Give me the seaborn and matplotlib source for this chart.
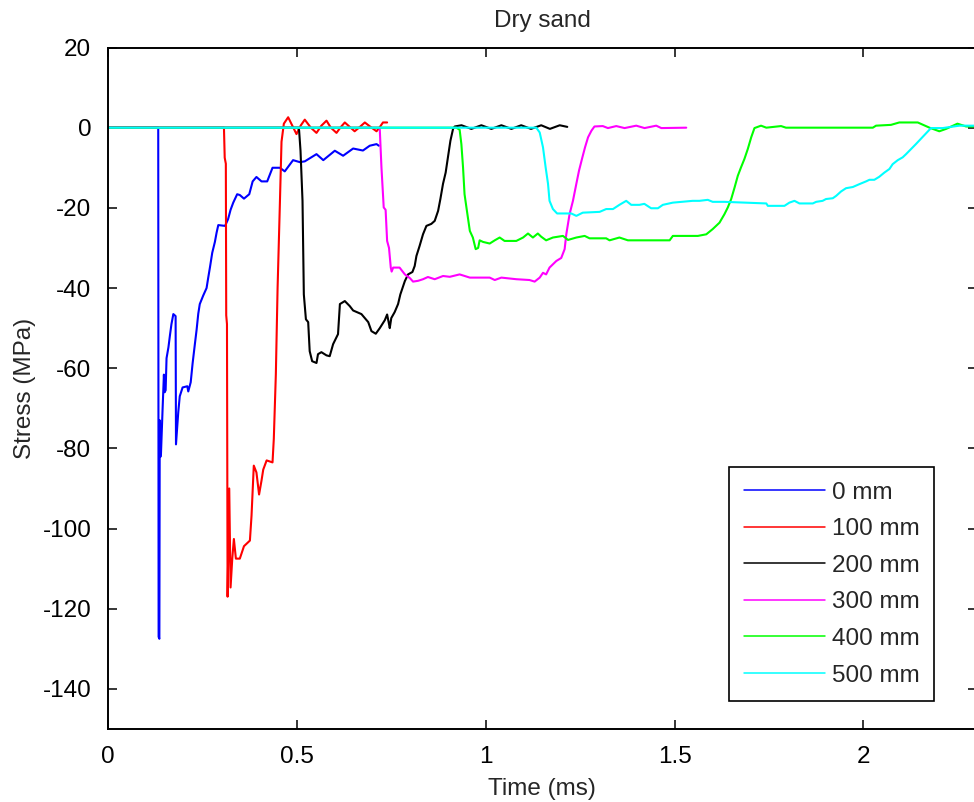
import numpy as np
import pandas as pd
import matplotlib
matplotlib.use("Agg")
import matplotlib.pyplot as plt
import seaborn as sns

labels = ["0 mm", "100 mm", "200 mm", "300 mm", "400 mm", "500 mm"]
colors = ["#0000ff", "#ff0000", "#000000", "#ff00ff", "#00ff00", "#00ffff"]

x_ticks = [0, 0.5, 1, 1.5, 2]
x_ticklabels = ["0", "0.5", "1", "1.5", "2"]
y_ticks = [-140, -120, -100, -80, -60, -40, -20, 0, 20]
y_ticklabels = ["-140", "-120", "-100", "-80", "-60", "-40", "-20", "0", "20"]

# time (ms) / stress (MPa)
t_0 = [0, 0.133, 0.134, 0.136, 0.137, 0.140, 0.1446, 0.148, 0.150, 0.1526,
       0.155, 0.160, 0.164, 0.168, 0.173, 0.179, 0.180, 0.186, 0.190, 0.1975,
       0.210, 0.2125, 0.219, 0.224, 0.230, 0.2346, 0.239, 0.243, 0.252, 0.261,
       0.2654, 0.270, 0.276, 0.283, 0.2875, 0.292, 0.310, 0.318, 0.3245, 0.3316,
       0.342, 0.349, 0.360, 0.374, 0.383, 0.393, 0.4065, 0.4215, 0.4356, 0.455,
       0.468, 0.490, 0.508, 0.521, 0.552, 0.570, 0.6005, 0.6225, 0.649, 0.675,
       0.693, 0.711, 0.717]
s_0 = [0, 0, -127, -127.5, -73, -82, -70, -61.6, -66, -65.5,
       -57.5, -54.8, -51.8, -49, -46.5, -47, -79, -71, -67, -64.8,
       -64.5, -65.8, -63.5, -58.8, -54, -50.4, -46.4, -44, -41.9, -40,
       -37.4, -34.8, -31.2, -28.5, -26.2, -24.3, -24.5, -22.8, -20.5, -18.7,
       -16.6, -16.8, -17.7, -16.6, -13.4, -12.3, -13.4, -13.4, -10, -10,
       -10.9, -8.1, -8.6, -8.4, -6.6, -8.1, -5.75, -7, -5.2, -5.7,
       -4.5, -4.1, -4.5]

t_100 = [0, 0.307, 0.309, 0.312, 0.313, 0.315, 0.3166, 0.321, 0.3245, 0.329,
         0.3333, 0.3386, 0.349, 0.360, 0.3757, 0.380, 0.386, 0.393, 0.400, 0.4065,
         0.411, 0.420, 0.4356, 0.439, 0.4444, 0.449, 0.455, 0.4594, 0.4656, 0.477,
         0.488, 0.499, 0.510, 0.521, 0.537, 0.552, 0.565, 0.5785, 0.590, 0.605,
         0.615, 0.627, 0.640, 0.653, 0.667, 0.680, 0.695, 0.711, 0.720, 0.728,
         0.739]
s_100 = [0, 0, -7.5, -9, -46.8, -49, -117, -90, -114.7, -107.5,
         -102.6, -107.5, -107.5, -104.4, -103, -96.8, -84.3, -86, -91.5, -88,
         -85.3, -83, -83.5, -77.6, -61.5, -40, -19.2, -3.5, 1, 2.6,
         0.5, -1.6, 0.5, 2, 0, -1.3, 0.5, 1.75, 0, -1.3,
         0, 1.3, 0.2, -0.9, 0.2, 1.3, 0.2, -0.9, 0.2, 1.3,
         1.3]

t_200 = [0, 0.504, 0.506, 0.5097, 0.515, 0.5185, 0.524, 0.530, 0.534, 0.5405,
         0.552, 0.556, 0.565, 0.5785, 0.587, 0.596, 0.609, 0.614, 0.627, 0.640,
         0.649, 0.671, 0.689, 0.6975, 0.709, 0.7196, 0.733, 0.739, 0.743, 0.746,
         0.750, 0.759, 0.768, 0.774, 0.786, 0.7945, 0.806, 0.812, 0.8166, 0.825,
         0.834, 0.843, 0.856, 0.865, 0.874, 0.880, 0.887, 0.894, 0.900, 0.9066,
         0.9136, 0.918, 0.936, 0.962, 0.9885, 1.015, 1.0415, 1.068, 1.094, 1.12,
         1.147, 1.17, 1.196, 1.216]
s_200 = [0, 0, -0.7, -5.75, -18.25, -41.6, -47.8, -48.5, -55.75, -58.25,
         -58.7, -56.5, -56, -56.8, -57, -54, -51.5, -44, -43.25, -44.5,
         -45.6, -46.5, -48.5, -50.75, -51.4, -50, -48, -46.6, -48.5, -50,
         -47.5, -46, -44, -41.6, -38.25, -36.6, -36, -34.5, -32, -29.5,
         -26.6, -24.5, -24, -23.25, -20.75, -17.8, -14, -11.2, -7.4, -3.25,
         -0.3, 0.3, 0.6, -0.3, 0.6, -0.3, 0.6, -0.3, 0.6, -0.3,
         0.6, -0.3, 0.6, 0.2]

t_300 = [0, 0.717, 0.7196, 0.724, 0.730, 0.735, 0.739, 0.744, 0.7487, 0.751,
         0.755, 0.772, 0.786, 0.799, 0.8077, 0.821, 0.834, 0.847, 0.865, 0.887,
         0.905, 0.931, 0.958, 0.984, 1.0106, 1.024, 1.0415, 1.081, 1.116, 1.1296,
         1.143, 1.1517, 1.16, 1.169, 1.187, 1.20, 1.209, 1.2134, 1.222, 1.231,
         1.24, 1.247, 1.256, 1.263, 1.271, 1.28, 1.288, 1.31, 1.3236, 1.3457,
         1.3677, 1.3986, 1.4206, 1.4515, 1.465, 1.531]
s_300 = [0, 0, -0.5, -9.9, -19.9, -20.5, -28.25, -30, -34.9, -35.9,
         -34.9, -34.9, -36.6, -37.5, -38.4, -38.2, -37.8, -37.25, -37.8, -37,
         -37.2, -36.6, -37.4, -37.4, -37.4, -38, -37.4, -37.8, -38, -38.4,
         -37.4, -36.2, -36.6, -34.9, -33.25, -32.5, -30.3, -26.6, -21.6, -18.25,
         -14, -10.75, -7.4, -4.9, -2.4, -0.75, 0.3, 0.4, -0.1, 0.4,
         -0.1, 0.5, -0.1, 0.5, -0.1, 0]

t_400 = [0, 0.922, 0.931, 0.9356, 0.940, 0.944, 0.949, 0.953, 0.958, 0.966,
         0.9735, 0.980, 0.984, 0.993, 1.0106, 1.024, 1.037, 1.050, 1.081, 1.099,
         1.112, 1.125, 1.138, 1.147, 1.16, 1.178, 1.2046, 1.218, 1.24, 1.262,
         1.275, 1.319, 1.328, 1.354, 1.3765, 1.487, 1.4955, 1.5617, 1.584, 1.601,
         1.619, 1.632, 1.641, 1.650, 1.659, 1.6675, 1.676, 1.685, 1.694, 1.703,
         1.7116, 1.729, 1.743, 1.782, 1.795, 2.025, 2.0335, 2.073, 2.095, 2.144,
         2.175, 2.201, 2.219, 2.249, 2.272, 2.30]
s_400 = [0, 0, -0.5, -4.1, -9.9, -16.6, -19.9, -22.5, -25.75, -27.4,
         -30.3, -30, -28.1, -28.5, -28.9, -28.1, -27.4, -28.25, -28.25, -27.4,
         -26.4, -27.4, -26.4, -27.2, -28.1, -27.4, -27, -28, -27.4, -27,
         -27.6, -27.6, -28.1, -27.4, -28.1, -28.1, -27, -27, -26.6, -25.3,
         -23.7, -21.6, -19.9, -17.8, -14.9, -12, -9.9, -7.8, -5.3, -2.4,
         -0.1, 0.5, 0, 0.4, 0, 0, 0.5, 0.7, 1.3, 1.3,
         0, -0.9, -0.3, 1, 0.3, 0.3]

t_500 = [0, 1.134, 1.143, 1.1517, 1.1587, 1.165, 1.169, 1.178, 1.189, 1.2266,
         1.24, 1.257, 1.3016, 1.319, 1.337, 1.354, 1.372, 1.3854, 1.407, 1.42,
         1.438, 1.456, 1.469, 1.4955, 1.548, 1.566, 1.588, 1.601, 1.632, 1.743,
         1.747, 1.791, 1.804, 1.8175, 1.8307, 1.866, 1.875, 1.892, 1.901, 1.919,
         1.928, 1.941, 1.954, 1.972, 1.989, 2.007, 2.016, 2.029, 2.042, 2.0556,
         2.069, 2.0775, 2.091, 2.104, 2.113, 2.139, 2.179, 2.21, 2.254, 2.30]
s_500 = [0, 0, -1.2, -4.9, -9.9, -14, -18.25, -20.3, -21.4, -21.4,
         -22, -21.2, -21, -20.3, -20.3, -19.25, -18.25, -19.25, -19.25, -19,
         -20.1, -20.1, -19.25, -18.7, -18.25, -18.25, -18, -18.5, -18.5, -18.9,
         -19.5, -19.5, -18.7, -18.25, -18.9, -18.9, -18.5, -18.25, -17.8, -17.6,
         -17, -15.9, -15.1, -14.8, -14.1, -13.4, -13, -13, -12.25, -11.2,
         -10.3, -9.1, -8.1, -7.4, -6.6, -4.1, -0.1, -0.1, 0.5, 0.5]

series = [(t_0, s_0), (t_100, s_100), (t_200, s_200),
          (t_300, s_300), (t_400, s_400), (t_500, s_500)]
df = pd.concat([pd.DataFrame({"t": t, "s": s, "depth": lab})
                for (t, s), lab in zip(series, labels)], ignore_index=True)

sns.set_style("ticks")
plt.rcParams["font.family"] = ["Liberation Sans", "DejaVu Sans"]
plt.rcParams["axes.unicode_minus"] = False

fs = 17.5
fig = plt.figure(figsize=(9.74, 8.02), dpi=100)
ax = fig.add_axes([108 / 974, (802 - 729) / 802, (976.7 - 108) / 974, (729 - 47.5) / 802])

sns.lineplot(data=df, x="t", y="s", hue="depth", hue_order=labels, palette=colors,
             sort=False, estimator=None, lw=1.5, ax=ax)

ax.set_xlim(0, 2.3)
ax.set_ylim(-150, 20)
ax.set_xticks(x_ticks, x_ticklabels)
ax.set_yticks(y_ticks, y_ticklabels)
ax.tick_params(direction="in", length=6.5, width=1.1, top=True, right=True,
               labelsize=fs, pad=12, colors="black")
for sp in ax.spines.values():
    sp.set_visible(True)
    sp.set_color("black")
    sp.set_linewidth(1.4)

ax.set_title("Dry sand", fontsize=fs, pad=14.4)
ax.set_xlabel("Time (ms)", fontsize=fs)
ax.set_ylabel("Stress (MPa)", fontsize=fs)
ax.xaxis.set_label_coords(0.5, -0.0717)
ax.yaxis.set_label_coords(-0.083, 0.5)

handles, labs = ax.get_legend_handles_labels()
leg = ax.legend(handles, labs, loc="upper left", bbox_to_anchor=(0.715, 0.3845),
                borderaxespad=0, fontsize=fs, frameon=True, fancybox=False,
                edgecolor="black", framealpha=1, handlelength=3.33,
                handletextpad=0.3, labelspacing=0.6, borderpad=0.6)
leg.get_frame().set_linewidth(1.2)
for ln in leg.get_lines():
    ln.set_linewidth(1.1)

fig.savefig("out.png", dpi=100)
